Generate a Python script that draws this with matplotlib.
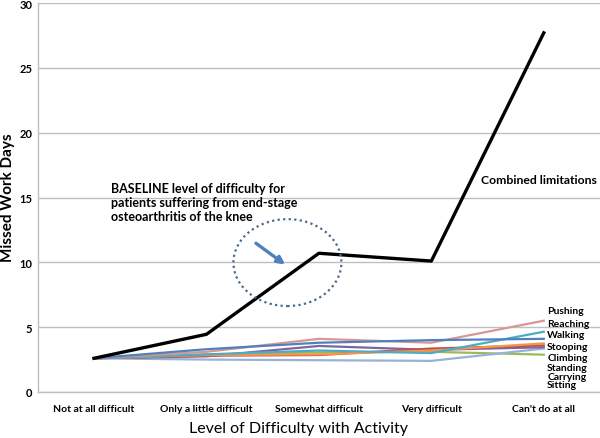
import matplotlib
matplotlib.use('Agg')
import matplotlib.pyplot as plt
from matplotlib.patches import Ellipse

plt.rcParams['font.family'] = ['Lato', 'DejaVu Sans']

# Data
kategori = ["Not at all difficult", "Only a little difficult", "Somewhat difficult",
            "Very difficult", "Can't do at all"]

combined = [2.6, 4.45, 10.7, 10.1, 27.7]
pushing = [2.6, 3.1, 4.1, 3.8, 5.5]
reaching = [2.6, 2.9, 3.2, 3.0, 4.65]
walking = [2.6, 3.3, 3.8, 4.0, 4.1]
stooping = [2.6, 2.85, 2.9, 3.2, 3.75]
climbing = [2.6, 2.8, 2.85, 3.35, 3.6]
standing = [2.6, 2.75, 3.55, 3.25, 3.45]
carrying = [2.6, 2.5, 2.45, 2.4, 3.35]
sitting = [2.6, 2.9, 3.05, 3.1, 2.88]

aktivitas = ["Pushing", "Reaching", "Walking", "Stooping", "Climbing",
             "Standing", "Carrying", "Sitting"]
nilai = [pushing, reaching, walking, stooping, climbing, standing, carrying, sitting]
warna = ['#D99694', '#4BACC6', '#4F81BD', '#F79646', '#C0504D',
         '#8064A2', '#95B3D7', '#9BBB59']
# posisi label di ujung kanan (nilai y)
label_y = [6.3, 5.25, 4.4, 3.5, 2.67, 1.9, 1.18, 0.56]

x = list(range(len(kategori)))

fig = plt.figure(figsize=(6, 4.39), dpi=100)
ax = fig.add_axes([0.063, 0.1048, 0.937, 0.886])

# urutan gambar: yang bawah dulu
urutan = [7, 6, 5, 4, 3, 1, 0, 2]
for i in urutan:
    ax.plot(x, nilai[i], color=warna[i], lw=1.6, zorder=3)
ax.plot(x, combined, color='black', lw=2.4, zorder=4)

for nama, yy in zip(aktivitas, label_y):
    ax.text(4.03, yy, nama, fontsize=7.5, fontweight='bold', va='center',
            ha='left', clip_on=False)

ax.text(3.44, 16.4, "Combined limitations", fontsize=8.8, fontweight='bold',
        va='center', ha='left')
ax.text(0.15, 14.65, "BASELINE level of difficulty for\npatients suffering from end-stage\nosteoarthritis of the knee",
        fontsize=9, fontweight='bold', va='center', ha='left', linespacing=1.2)

ax.add_patch(Ellipse((1.72, 9.98), 0.96, 6.7, fill=False, ls=(0, (1, 1.5)),
                     lw=1.6, edgecolor='#4A6A8C', zorder=5))
ax.annotate('', xy=(1.72, 9.7), xytext=(1.42, 11.6),
            arrowprops=dict(arrowstyle='-|>', color='#4F81BD', lw=2.4,
                            mutation_scale=11), zorder=6)

ax.set_xlim(-0.5, 4.5)
ax.set_ylim(0, 30)
ax.set_yticks(range(0, 31, 5))
ax.set_xticks(x)
ax.set_xticklabels(kategori, fontsize=7.5, fontweight='bold')
for t in ax.get_yticklabels():
    t.set_fontsize(8)
    t.set_fontweight('bold')
ax.tick_params(axis='y', length=0, pad=4)
ax.tick_params(axis='x', length=0, pad=9)

ax.grid(axis='y', color='#BFBFBF', lw=1)
ax.set_axisbelow(True)
for s in ['top', 'right']:
    ax.spines[s].set_visible(False)
for s in ['left', 'bottom']:
    ax.spines[s].set_color('#BFBFBF')
    ax.spines[s].set_linewidth(1)

fig.text(0.014, 0.549, "Missed Work Days", fontsize=11, fontweight='bold',
         rotation=90, ha='center', va='center')
fig.text(0.497, 0.022, "Level of Difficulty with Activity", fontsize=11.5,
         ha='center', va='center')

plt.savefig('out.png', dpi=100)
